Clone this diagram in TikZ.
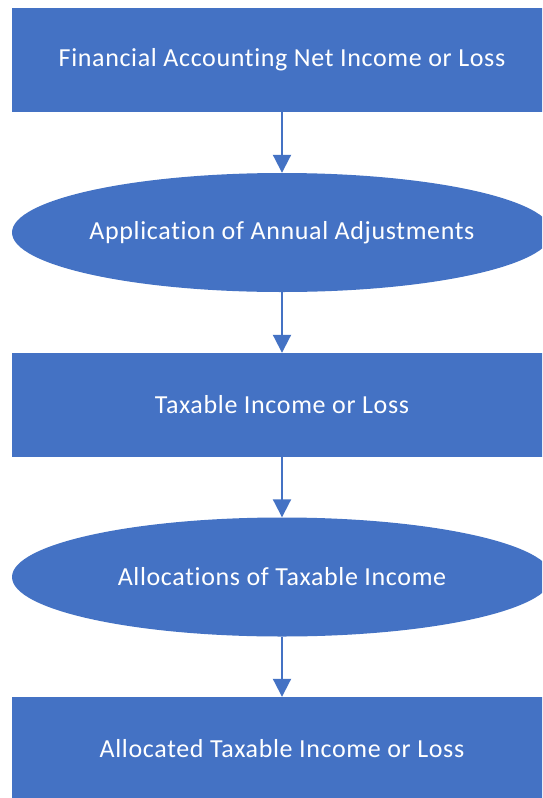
\documentclass[tikz,border=0pt]{standalone}
\usepackage{fontspec}
\setmainfont{Carlito}[Ligatures={NoCommon},LetterSpace=2.5]
\usetikzlibrary{shapes.geometric,arrows.meta}
\definecolor{officeblue}{HTML}{4472C4}
\begin{document}
\begin{tikzpicture}[x=1pt,y=-1pt,
  box/.style={rectangle,fill=officeblue,draw=none,minimum width=540pt,minimum height=104pt,inner sep=0pt,text=white,font=\fontsize{26}{30}\selectfont},
  oval/.style={ellipse,fill=officeblue,draw=none,minimum width=540pt,minimum height=119pt,inner ysep=0pt,inner xsep=-40pt,text=white,font=\fontsize{26}{30}\selectfont},
  flow/.style={draw=officeblue,line width=2pt,-{Triangle[width=18pt,length=18pt]}}]
\useasboundingbox (0,0) rectangle (542,798);
\fill[white] (0,0) rectangle (542,798);
\clip (0,0) rectangle (542,798);
\node[box] (n1) at (282,60) {Financial Accounting Net Income or Loss};
\node[oval] (n2) at (282,232.5) {Application of Annual Adjustments};
\node[box] (n3) at (282,405) {Taxable Income or Loss};
\node[oval] (n4) at (282,577) {Allocations of Taxable Income};
\node[box] (n5) at (282,749) {Allocated Taxable Income or Loss};
\draw[flow] (n1.south) -- (n2.north);
\draw[flow] (n2.south) -- (n3.north);
\draw[flow] (n3.south) -- (n4.north);
\draw[flow] (n4.south) -- (n5.north);
\end{tikzpicture}
\end{document}
